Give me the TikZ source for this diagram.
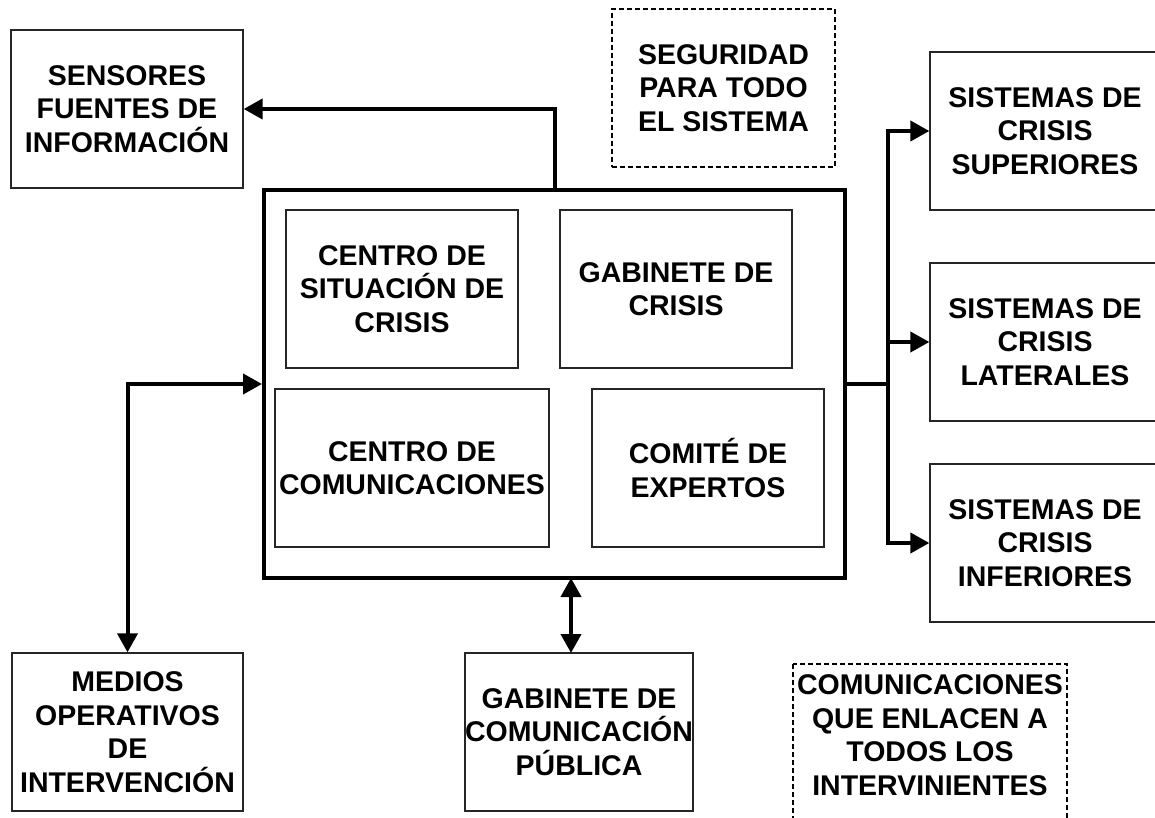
\documentclass[tikz,border=0pt]{standalone}
\usepackage{fontspec}
\setmainfont{Liberation Sans}
\usetikzlibrary{arrows.meta}
\begin{document}
\begin{tikzpicture}[x=1pt,y=-1pt,
  every node/.style={font=\fontsize{28.5}{33.5}\selectfont\bfseries, align=center, inner sep=0pt},
  tbox/.style={draw=black!85, line width=1.3pt, rectangle},
  dbox/.style={draw=black, line width=1.4pt, dash pattern=on 5pt off 3pt},
  mainbox/.style={draw=black, line width=4pt, rectangle},
  conn/.style={draw=black, line width=4pt, -{Triangle[length=19pt,width=20pt]}},
  bconn/.style={draw=black, line width=4pt, {Triangle[length=19pt,width=20pt]}-{Triangle[length=19pt,width=20pt]}},
  line/.style={draw=black, line width=4pt}]
\useasboundingbox (0,0) rectangle (1155,818);

\node[tbox, minimum width=232pt, minimum height=158pt] (sens) at (127,109) {SENSORES\\FUENTES DE\\INFORMACIÓN};
\node[dbox, minimum width=223pt, minimum height=158pt] (seg) at (723.5,88) {SEGURIDAD\\PARA TODO\\EL SISTEMA};

\node[mainbox, minimum width=581pt, minimum height=388pt] (main) at (554.5,384) {};
\node[tbox, minimum width=232pt, minimum height=158pt] (csc) at (402,289) {CENTRO DE\\SITUACIÓN DE\\CRISIS};
\node[tbox, minimum width=232pt, minimum height=158pt] (gab) at (676,289) {GABINETE DE\\CRISIS};
\node[tbox, minimum width=274pt, minimum height=158pt] (ccom) at (412,468) {CENTRO DE\\COMUNICACIONES};
\node[tbox, minimum width=232pt, minimum height=158pt] (comite) at (708,468) {COMITÉ DE\\EXPERTOS};

\node[tbox, minimum width=230pt, minimum height=158pt] (sup) at (1045,131) {SISTEMAS DE\\CRISIS\\SUPERIORES};
\node[tbox, minimum width=230pt, minimum height=158pt] (lat) at (1045,342) {SISTEMAS DE\\CRISIS\\LATERALES};
\node[tbox, minimum width=230pt, minimum height=158pt] (inf) at (1045,543) {SISTEMAS DE\\CRISIS\\INFERIORES};

\node[tbox, minimum width=231pt, minimum height=158pt] (medios) at (127.5,732) {MEDIOS\\OPERATIVOS\\DE\\INTERVENCIÓN};
\node[tbox, minimum width=228pt, minimum height=158pt] (gcp) at (579,732) {GABINETE DE\\COMUNICACIÓN\\PÚBLICA};

\draw[dbox] (793,664) rectangle (1067,840);
\node (com) at (930,735) {COMUNICACIONES\\QUE ENLACEN A\\TODOS LOS\\INTERVINIENTES};

% connectors
\draw[conn] (main.north) |- (sens.east);
\draw[bconn] (medios.north) |- (main.west);
\coordinate (bt) at (571,578);
\coordinate (bb) at (571,653);
\draw[bconn] (bt) -- (bb);
\coordinate (bus) at (888,384);
\draw[line] (main.east) -- (bus);
\draw[conn] (bus) |- (sup.west);
\draw[conn] (bus) -- (lat.west -| bus) -- (lat.west);
\draw[conn] (bus) |- (inf.west);
\end{tikzpicture}
\end{document}
